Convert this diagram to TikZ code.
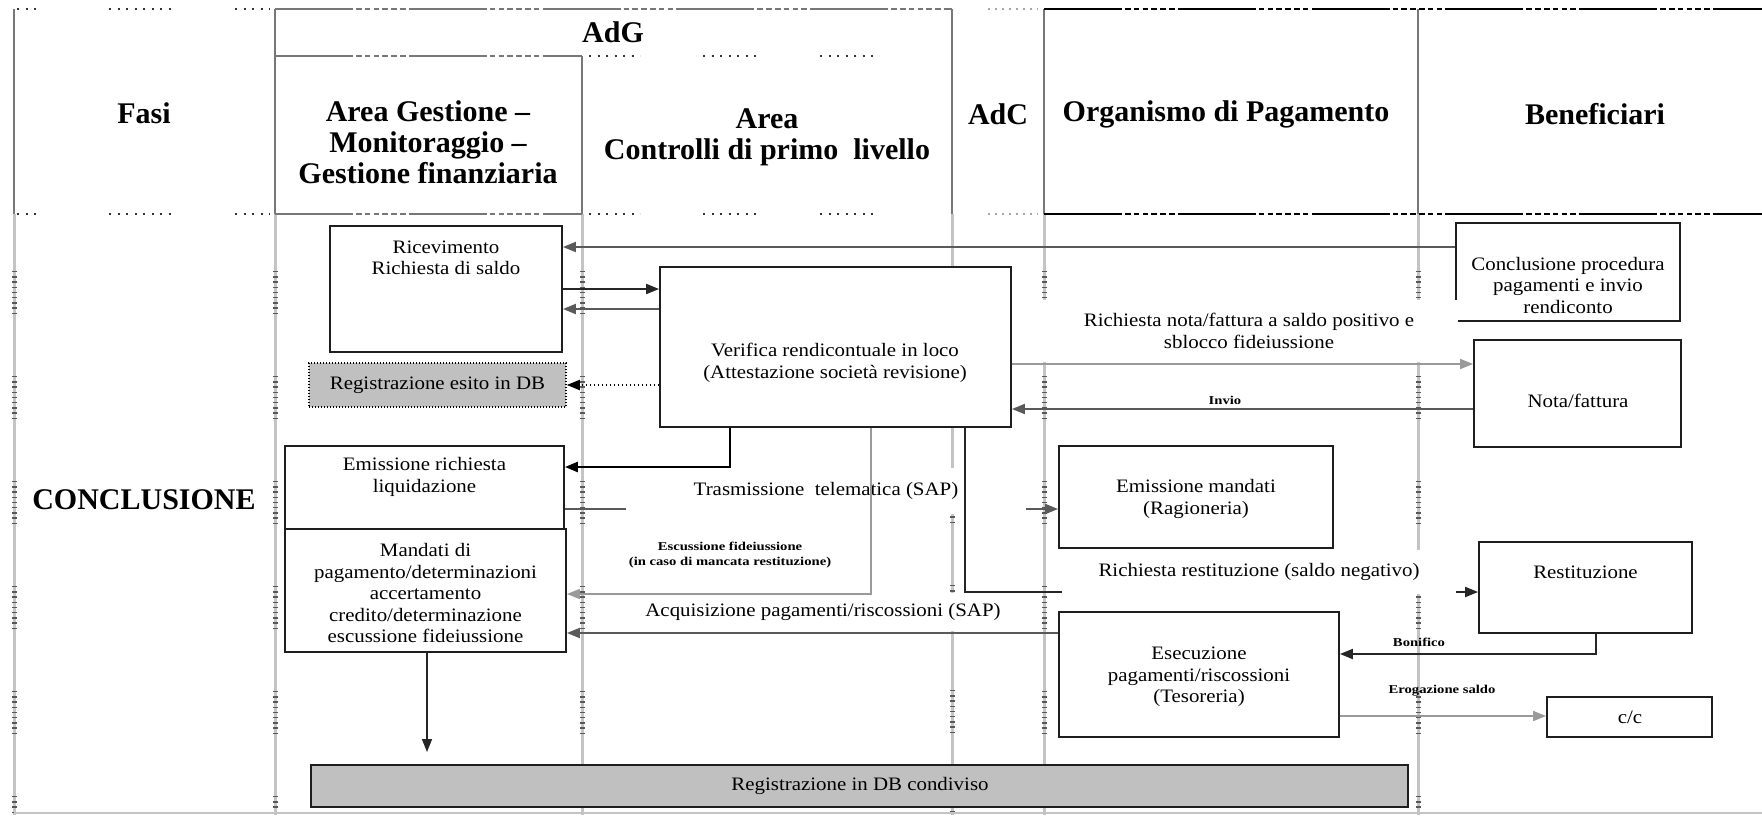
\documentclass[tikz,border=0pt]{standalone}
\usepackage{fontspec}
\setmainfont{Liberation Serif}
\newfontfamily\bodyfont[FakeStretch=1.1]{Liberation Serif}
\newfontfamily\lblfont[FakeStretch=1.22]{Liberation Serif}
\usetikzlibrary{arrows.meta,calc}

\definecolor{lanegray}{HTML}{C4C4C4}
\definecolor{rulegray}{HTML}{777777}
\definecolor{boxline}{HTML}{1E1E1E}
\definecolor{dbfill}{HTML}{C0C0C0}
\definecolor{linkgray}{HTML}{5A5A5A}
\definecolor{faintgray}{HTML}{9A9A9A}

\tikzset{
  hdr/.style={font=\fontsize{30}{31}\selectfont\bfseries, align=center, inner sep=0pt},
  txt/.style={font=\bodyfont\fontsize{19}{21.5}\selectfont, align=center, inner sep=0pt},
  lbl/.style={font=\lblfont\bfseries\fontsize{12}{15.5}\selectfont, align=center, inner sep=0pt},
  mask/.style={fill=white, inner sep=0pt},
  box/.style={draw=boxline, line width=1.8pt, fill=white, inner sep=0pt},
  dbbox/.style={draw=boxline, line width=1.8pt, fill=dbfill, inner sep=0pt},
  dotbox/.style={draw=black, line width=1.5pt, dash pattern=on 1.2pt off 1.8pt, fill=dbfill, inner sep=0pt},
  hdrline/.style={draw=rulegray, line width=2.6pt},
  lane/.style={draw=lanegray, line width=3pt},
  laneticks/.style={draw=black!65, line width=5pt,
    dash pattern=on 1.4pt off 3.8pt on 1.4pt off 3.8pt on 1.4pt off 3.8pt on 1.4pt off 3.8pt
      on 1.4pt off 3.8pt on 1.4pt off 3.8pt on 1.4pt off 3.8pt on 1.4pt off 3.8pt on 1.4pt off 62pt},
  adgdash/.style={draw=rulegray, line width=2.6pt,
    dash pattern=on 78pt off 3pt on 5.5pt off 3.3pt on 5.5pt off 3.3pt on 5.5pt off 3.3pt
      on 5.5pt off 3.3pt on 5.5pt off 3.3pt on 5.5pt off 3.3pt},
  blkdash/.style={draw=black, line width=2.6pt,
    dash pattern=on 78pt off 3pt on 5.5pt off 3.3pt on 5.5pt off 3.3pt on 5.5pt off 3.3pt
      on 5.5pt off 3.3pt on 5.5pt off 3.3pt on 5.5pt off 3.3pt},
  dotrow/.style={draw=black!80, line width=2pt, dash pattern=on 2pt off 6.5pt},
  ltdotrow/.style={draw=black!35, line width=2pt, dash pattern=on 2pt off 5pt},
  arr/.style={-{Triangle[length=13pt,width=10pt]}},
  conn/.style={draw=linkgray, line width=2pt},
  darkconn/.style={draw=black!85, line width=2pt},
  thickconn/.style={draw=black, line width=2.4pt},
  lightconn/.style={draw=faintgray, line width=1.6pt},
  dotconn/.style={draw=black, line width=1.8pt, dash pattern=on 1.5pt off 2.5pt},
}

\begin{document}
\begin{tikzpicture}[x=1pt,y=-1pt]
\useasboundingbox (0,0) rectangle (1762,815);

% ---------- swimlane lines in the body ----------
\foreach \x in {14,275,582,952,1044,1418} \draw[lane] (\x,214) -- (\x,815);
\foreach \x in {14,275,582,1044,1418} \draw[laneticks] (\x,271) -- (\x,815);
\draw[laneticks] (952,480) -- (952,815);
\draw[draw=lanegray, line width=1.5pt] (14,813) -- (1762,813);

% ---------- header grid ----------
\foreach \x/\ya in {14/9,275/9,582/56,952/9,1044/9,1418/9} \draw[hdrline] (\x,\ya) -- (\x,214);
\foreach \y in {9,214} {
  \draw[dotrow] (17,\y) -- (42,\y);
  \draw[dotrow] (109,\y) -- (172,\y);
  \draw[dotrow] (235,\y) -- (270,\y);
  \draw[ltdotrow] (988,\y) -- (1038,\y);
  \draw[blkdash] (1044,\y) -- (1762,\y);
}
\draw[adgdash] (275,9) -- (952,9);
\draw[adgdash] (275,56) -- (582,56);
\draw[adgdash] (275,214) -- (582,214);
\foreach \y in {56,214} {
  \draw[dotrow] (589,\y) -- (640,\y);
  \draw[dotrow] (703,\y) -- (757,\y);
  \draw[dotrow] (820,\y) -- (874,\y);
}

% ---------- header texts ----------
\node[hdr] (adgT) at (613,32) {AdG};
\node[hdr] (fasiT) at (144,113) {Fasi};
\node[hdr] (agT) at (428,142) {Area Gestione --\\Monitoraggio --\\Gestione finanziaria};
\node[hdr] (acT) at (767,137) {Area\\Controlli di primo\ \ livello};
\node[hdr] (adcT) at (998,114) {AdC};
\node[hdr] (opT) at (1226,114) {Organismo di Pagamento};
\node[hdr] (benT) at (1595,114) {Beneficiari};
\node[hdr] (concl) at (144,500) {CONCLUSIONE};

% ---------- process boxes ----------
\node[box, minimum width=232pt, minimum height=126pt] (ric) at (446,289) {};
\node[box, minimum width=351pt, minimum height=160pt] (ver) at (835.5,347) {};
\node[dotbox, minimum width=257pt, minimum height=44pt] (regesito) at (437.5,385) {};
\node[box, minimum width=279pt, minimum height=83pt] (emric) at (424.5,487.5) {};
\node[box, minimum width=281pt, minimum height=123pt] (mand) at (425.5,590.5) {};
\node[box, minimum width=224pt, minimum height=98pt] (conc) at (1568,272) {};
\node[box, minimum width=207pt, minimum height=107pt] (nota) at (1577.5,393.5) {};
\node[box, minimum width=274pt, minimum height=102pt] (emman) at (1196,497) {};
\node[box, minimum width=213pt, minimum height=91pt] (rest) at (1585.5,587.5) {};
\node[box, minimum width=280pt, minimum height=125pt] (esec) at (1199,674.5) {};
\node[box, minimum width=165pt, minimum height=40pt] (cc) at (1629.5,717) {};
\node[dbbox, minimum width=1097pt, minimum height=42pt] (db) at (859.5,786) {};

% ---------- row helpers for connectors ----------
\coordinate (rA) at (0,247);
\coordinate (rB) at (0,289);
\coordinate (rC) at (0,309);
\coordinate (rD) at (0,364);
\coordinate (rE) at (0,385);
\coordinate (rF) at (0,409);
\coordinate (rG) at (0,509);
\coordinate (rH) at (0,633);
\coordinate (rI) at (0,716);
\coordinate (kEm) at (730,467);
\coordinate (kEsc) at (871,594);
\coordinate (kRes) at (965,592);
\coordinate (kBon) at (1596,654);
\coordinate (kDown) at (427,752);

% connectors partly hidden behind the label backgrounds
\draw[conn, arr] (emric.east |- rG) -- (emman.west |- rG);

\node[txt, mask, minimum width=418pt, minimum height=62pt] (lbNota) at (1249,331)
  {Richiesta nota/fattura a saldo positivo e\\sblocco fideiussione};
\node[txt, mask, minimum width=400pt, minimum height=46pt] (lbTras) at (826,491)
  {Trasmissione\ \ telematica (SAP)};
\draw[darkconn, arr] (ver.south -| kRes) |- (rest.west |- kRes);
\node[txt, mask, minimum width=394pt, minimum height=44pt] (lbRest) at (1259,572)
  {Richiesta restituzione (saldo negativo)};
\node[txt, mask, inner xsep=4pt, minimum height=38pt] (lbAcq) at (823,612)
  {Acquisizione pagamenti/riscossioni (SAP)};

% ---------- box texts ----------
\node[txt] (ricT) at (446,258) {Ricevimento\\Richiesta di saldo};
\node[txt] (verT) at (835,363) {Verifica rendicontuale in loco\\(Attestazione società revisione)};
\node[txt] (regT) at (regesito.center) {Registrazione esito in DB};
\node[txt] (emricT) at (424.5,477) {Emissione richiesta\\liquidazione};
\node[txt] (mandT) at (425.5,593) {Mandati di\\pagamento/determinazioni\\accertamento\\credito/determinazione\\escussione fideiussione};
\node[txt] (concT) at (1568,285) {Conclusione procedura\\pagamenti e invio\\rendiconto};
\node[txt] (notaT) at (1578,401) {Nota/fattura};
\node[txt] (emmanT) at (1196,499) {Emissione mandati\\(Ragioneria)};
\node[txt] (restT) at (1585.5,572) {Restituzione};
\node[txt] (esecT) at (1199,677) {Esecuzione\\pagamenti/riscossioni\\(Tesoreria)};
\node[txt] (ccT) at (1630,717) {c/c};
\node[txt] (dbT) at (860,786) {Registrazione in DB condiviso};

% small labels
\node[lbl] (lbInvio) at (1225,400) {Invio};
\node[lbl] (lbEsc) at (730,555) {Escussione fideiussione\\(in caso di mancata restituzione)};
\node[lbl] (lbBon) at (1419,642) {Bonifico};
\node[lbl] (lbErog) at (1442,691) {Erogazione saldo};

% ---------- connectors ----------
\draw[conn, arr] (conc.west |- rA) -- (ric.east |- rA);
\draw[darkconn, arr] (ric.east |- rB) -- (ver.west |- rB);
\draw[conn, arr] (ver.west |- rC) -- (ric.east |- rC);
\draw[lightconn, arr] (ver.east |- rD) -- (nota.west |- rD);
\draw[dotconn, arr] (ver.west |- rE) -- (regesito.east |- rE);
\draw[conn, arr] (nota.west |- rF) -- (ver.east |- rF);
\draw[thickconn, arr] (ver.south -| kEm) |- (emric.east |- kEm);
\draw[lightconn, arr] (ver.south -| kEsc) |- (mand.east |- kEsc);
\draw[conn, arr] (esec.west |- rH) -- (mand.east |- rH);
\draw[darkconn, arr] (rest.south -| kBon) |- (esec.east |- kBon);
\draw[lightconn, arr] (esec.east |- rI) -- (cc.west |- rI);
\draw[darkconn, line width=1.6pt, arr] (mand.south -| kDown) -- (kDown);
\end{tikzpicture}
\end{document}
